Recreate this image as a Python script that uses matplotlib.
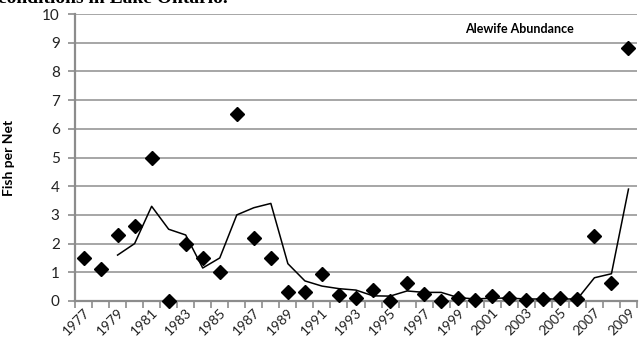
import matplotlib
matplotlib.use("Agg")
import matplotlib.pyplot as plt
import numpy as np

years = list(range(1977, 2010))
abundance = [1.5, 1.1, 2.3, 2.6, 5.0, 0.0, 2.0, 1.5, 1.0, 6.5, 2.2, 1.5, 0.3, 0.3,
             0.93, 0.2, 0.1, 0.4, 0.0, 0.64, 0.23, 0.0, 0.12, 0.05, 0.19, 0.12,
             0.05, 0.07, 0.12, 0.07, 2.26, 0.62, 8.8]
trend = [np.nan, np.nan, 1.6, 2.0, 3.3, 2.5, 2.3, 1.15, 1.5, 3.0, 3.25, 3.4, 1.3, 0.7,
         0.52, 0.43, 0.38, 0.18, 0.17, 0.35, 0.3, 0.3, 0.12, 0.07, 0.1, 0.1,
         0.07, 0.07, 0.07, 0.07, 0.81, 0.95, 3.9]
yticks = list(range(0, 11))
xlabel_years = [y for y in years if y % 2 == 1]

plt.rcParams['font.family'] = ['Lato', 'DejaVu Sans']

W, H = 642, 348
fig = plt.figure(figsize=(W / 100, H / 100), dpi=100)
ax = fig.add_axes([75 / W, 1 - 301 / H, (637 - 75) / W, (301 - 14) / H])

x = np.arange(len(years))
ax.plot(x, trend, color='black', lw=1.1, zorder=3)
ax.plot(x, abundance, linestyle='none', marker='D', markersize=7,
        color='black', zorder=4, clip_on=False)

ax.set_xlim(-0.5, len(years) - 0.5)
ax.set_ylim(0, 10)
ax.set_yticks(yticks)
ax.set_yticklabels([str(t) for t in yticks], fontsize=11, color='#222222')
ax.grid(axis='y', color='#a6a6a6', lw=1.4)
ax.set_axisbelow(True)

ax.set_xticks(np.arange(len(years) + 1) - 0.5)
ax.set_xticklabels([])
label_pos = [years.index(y) for y in xlabel_years]
ax.set_xticks(label_pos, minor=True)
ax.set_xticklabels([str(y) for y in xlabel_years], minor=True, rotation=45,
                   ha='right', va='top', rotation_mode='anchor', fontsize=10,
                   color='#222222')
ax.tick_params(axis='x', which='minor', length=0, pad=4)
ax.tick_params(axis='x', which='major', length=5, width=1.2, color='#8c8c8c')
ax.tick_params(axis='y', length=5, width=1.2, color='#8c8c8c', pad=6)

for s in ['top', 'right']:
    ax.spines[s].set_visible(False)
for s in ['left', 'bottom']:
    ax.spines[s].set_color('#8c8c8c')
    ax.spines[s].set_linewidth(1.6)

ax.set_ylabel('Fish per Net', fontsize=10, fontweight='bold')
ax.yaxis.set_label_coords(-0.107, 0.5)

fig.text(519 / W, 1 - 29 / H, 'Alewife Abundance', fontsize=9,
         fontweight='bold', ha='center', va='center')

fig.text(-2 / W, 1 - 3 / H, 'conditions in Lake Ontario.', family='Liberation Serif',
         fontsize=14, fontweight='bold', ha='left', va='baseline')

fig.savefig('out.png', dpi=100)
